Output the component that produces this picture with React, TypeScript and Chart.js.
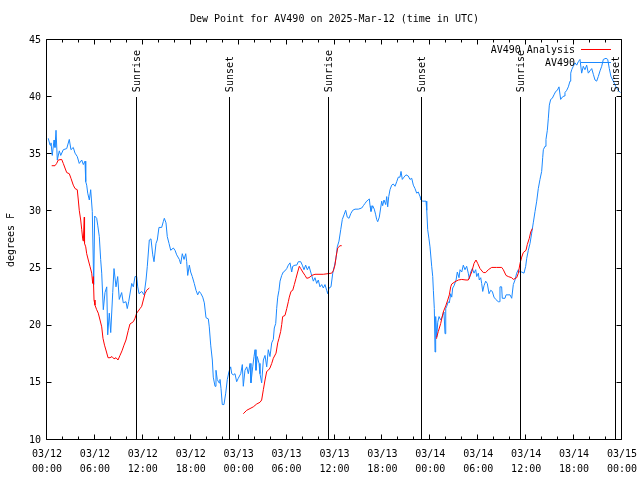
import { useEffect, useRef } from "react";
import { Chart, registerables } from "chart.js";

Chart.register(...registerables);

const TITLE = "Dew Point for AV490 on 2025-Mar-12 (time in UTC)";
const Y_LABEL = "degrees F";
const FONT = '"DejaVu Sans Mono", "Liberation Mono", monospace';

// hours since 03/12 00:00 UTC
const X_MIN = 0;
const X_MAX = 72;
const X_TICK_DATES = ["03/12", "03/12", "03/12", "03/12", "03/13", "03/13", "03/13", "03/13", "03/14", "03/14", "03/14", "03/14", "03/15"];
const X_TICK_TIMES = ["00:00", "06:00", "12:00", "18:00", "00:00", "06:00", "12:00", "18:00", "00:00", "06:00", "12:00", "18:00", "00:00"];
const Y_MIN = 10;
const Y_MAX = 45;
const Y_STEP = 5;

const SUNRISE_HOURS = [11.14, 35.19, 59.17];
const SUNSET_HOURS = [22.83, 46.87, 71.15];

const LEGEND_LABELS = ["AV490 Analysis", "AV490"];
const RED = "#ff0000";
const BLUE = "#1a88ff";

// AV490 observations
const blueHours = [
  0.16, 0.38, 0.5, 0.66, 0.88, 1.0, 1.13, 1.29, 1.54, 1.72, 2.04, 2.47, 2.79, 3.0, 3.29, 3.51, 3.79, 4.04, 4.35, 4.55,
  4.76, 4.85, 4.97, 5.1, 5.3, 5.47, 5.67, 5.85, 5.97, 6.22, 6.35, 6.55, 6.72, 6.85, 7.05, 7.26, 7.48, 7.6, 7.8, 7.98,
  8.23, 8.39, 8.64, 8.85, 9.05, 9.35, 9.55, 9.89, 10.05, 10.23, 10.61, 10.81, 11.02, 11.23, 11.36, 11.52, 11.86, 12.15, 12.4, 12.56,
  12.81, 13.02, 13.24, 13.4, 13.65, 13.81, 14.02, 14.36, 14.56, 14.69, 14.9, 15.06, 15.28, 15.49, 15.82, 16.03, 16.24, 16.57, 16.74, 16.94,
  17.16, 17.37, 17.49, 17.62, 17.82, 17.99, 18.19, 18.44, 18.66, 18.87, 19.07, 19.28, 19.5, 19.7, 19.91, 20.2, 20.32, 20.5, 20.7, 20.82,
  21.04, 21.16, 21.32, 21.54, 21.66, 21.79, 21.95, 22.16, 22.38, 22.58, 22.79, 23.0, 23.13, 23.33, 23.54, 23.75, 23.95, 24.26, 24.46, 24.58,
  24.79, 25.01, 25.21, 25.42, 25.54, 25.76, 25.92, 26.05, 26.17, 26.33, 26.55, 26.67, 26.88, 27.09, 27.3, 27.51, 27.71, 27.92, 28.14, 28.34,
  28.46, 28.64, 28.76, 28.89, 29.05, 29.18, 29.39, 29.59, 29.8, 30.02, 30.22, 30.43, 30.64, 30.77, 31.05, 31.27, 31.47, 31.77, 31.97, 32.18,
  32.39, 32.6, 32.81, 33.06, 33.35, 33.56, 33.77, 33.97, 34.18, 34.4, 34.6, 34.81, 35.02, 35.15, 35.31, 35.56, 35.78, 35.98, 36.19, 36.35,
  36.56, 36.78, 36.98, 37.19, 37.4, 37.6, 37.82, 38.03, 38.28, 38.57, 38.98, 39.41, 39.61, 39.82, 40.03, 40.23, 40.36, 40.45, 40.57, 40.78,
  40.98, 41.16, 41.28, 41.41, 41.61, 41.78, 41.91, 42.03, 42.2, 42.41, 42.54, 42.66, 42.79, 42.95, 43.16, 43.36, 43.58, 43.79, 43.99, 44.2,
  44.33, 44.49, 44.7, 44.95, 45.24, 45.45, 45.67, 45.87, 46.08, 46.29, 46.49, 46.71, 46.83, 47.05, 47.46, 47.55, 47.67, 47.83, 47.96, 48.17,
  48.3, 48.38, 48.5, 48.59, 48.67, 48.8, 48.93, 49.09, 49.3, 49.55, 49.71, 49.84, 49.93, 50.05, 50.25, 50.38, 50.55, 50.68, 50.8, 50.97,
  51.22, 51.38, 51.59, 51.72, 51.93, 52.13, 52.34, 52.55, 52.75, 52.88, 53.06, 53.26, 53.47, 53.68, 53.81, 54.01, 54.13, 54.31, 54.43, 54.56,
  54.72, 54.93, 55.13, 55.35, 55.56, 55.76, 55.97, 56.19, 56.51, 56.64, 56.72, 56.93, 57.01, 57.35, 57.48, 57.98, 58.19, 58.39, 58.6, 58.81,
  59.02, 59.14, 59.44, 59.73, 59.94, 60.07, 60.27, 60.48, 60.69, 60.89, 61.11, 61.32, 61.52, 61.73, 61.94, 62.07, 62.15, 62.36, 62.48, 62.65,
  62.77, 62.9, 63.07, 63.27, 63.48, 63.7, 63.9, 64.11, 64.32, 64.52, 64.74, 64.86, 65.08, 65.28, 65.49, 65.58, 65.7, 65.9, 66.12, 66.33,
  66.53, 66.74, 66.95, 67.15, 67.36, 67.58, 67.78, 67.99, 68.21, 68.41, 68.62, 68.83, 69.03, 69.25, 69.46, 69.66, 70.0, 70.21, 70.41, 70.62,
  70.91, 71.25, 71.54, 71.79,
];
const blueDew = [
  36.4, 35.8, 36.0, 34.9, 36.25, 35.6, 37.1, 34.5, 35.3, 34.9, 35.4, 35.5, 36.3, 35.4, 35.6, 35.1, 34.8, 34.2, 34.5, 34.1,
  34.4, 32.6, 32.3, 31.6, 31.0, 31.9, 30.0, 23.6, 29.6, 29.4, 28.8, 27.8, 25.8, 24.6, 21.4, 22.9, 23.4, 19.2, 21.1, 19.4,
  22.9, 25.0, 23.4, 24.3, 22.3, 22.9, 22.0, 22.1, 21.5, 22.1, 23.7, 23.4, 24.3, 24.3, 23.4, 22.8, 23.0, 22.7, 24.0, 25.2,
  27.5, 27.6, 26.2, 25.6, 27.2, 27.5, 28.6, 28.6, 29.1, 29.4, 29.0, 27.8, 27.2, 26.6, 26.8, 26.6, 26.2, 25.8, 25.4, 26.3,
  25.8, 26.3, 25.6, 24.4, 25.3, 24.7, 24.3, 23.7, 23.1, 22.7, 23.0, 22.8, 22.5, 22.0, 20.7, 20.6, 19.9, 18.3, 17.0, 15.5,
  14.7, 16.1, 15.3, 15.0, 15.3, 14.5, 13.1, 13.1, 14.1, 15.3, 16.0, 16.4, 15.8, 15.7, 15.8, 15.1, 15.4, 15.8, 16.6, 14.7,
  16.1, 16.4, 15.8, 16.7, 15.0, 16.4, 17.3, 17.9, 16.1, 17.3, 16.7, 15.8, 15.0, 17.0, 17.4, 16.4, 17.9, 17.3, 18.5, 18.8,
  19.8, 20.2, 21.5, 22.5, 23.1, 23.9, 24.4, 24.7, 24.8, 25.0, 25.3, 25.5, 24.7, 25.2, 25.3, 25.3, 25.6, 25.6, 25.3, 24.9,
  25.3, 24.9, 25.2, 24.6, 23.9, 24.2, 23.7, 24.0, 23.4, 23.6, 23.3, 23.6, 23.1, 22.8, 23.3, 23.4, 24.6, 25.2, 25.9, 26.9,
  27.4, 28.4, 29.3, 29.7, 30.1, 29.5, 29.4, 29.8, 30.1, 30.2, 30.2, 30.3, 30.5, 30.7, 30.9, 31.0, 31.1, 30.5, 30.0, 30.5,
  30.2, 29.7, 29.3, 29.1, 29.5, 30.3, 30.9, 30.5, 31.0, 30.6, 31.3, 30.4, 31.3, 31.9, 32.3, 32.4, 32.2, 32.6, 33.0, 33.0,
  33.5, 32.8, 33.0, 33.2, 33.1, 32.8, 32.9, 32.3, 32.0, 31.6, 31.7, 31.3, 31.0, 30.9, 30.9, 30.1, 28.4, 27.6, 26.9, 25.2,
  24.3, 23.1, 21.5, 17.7, 20.8, 19.0, 20.3, 20.8, 20.5, 20.9, 21.2, 19.3, 21.5, 21.7, 22.1, 22.0, 22.8, 22.5, 23.3, 23.5,
  24.0, 24.7, 24.2, 24.9, 24.7, 25.3, 24.9, 25.2, 24.6, 24.1, 24.7, 25.0, 24.6, 24.9, 24.3, 24.6, 24.0, 24.2, 23.7, 23.0,
  23.5, 23.9, 23.7, 22.8, 23.1, 23.0, 22.5, 22.3, 22.1, 22.1, 23.4, 23.4, 22.4, 22.4, 22.7, 22.7, 22.4, 23.6, 24.0, 24.6,
  24.9, 24.7, 24.7, 24.6, 25.2, 25.9, 26.6, 27.2, 28.1, 29.0, 30.0, 30.9, 32.0, 32.8, 33.5, 34.7, 35.4, 35.7, 36.3, 37.1,
  38.1, 39.3, 39.8, 39.9, 40.2, 40.5, 40.6, 40.9, 39.8, 40.0, 40.1, 40.4, 40.6, 40.9, 41.4, 42.1, 42.4, 42.7, 43.0, 42.8,
  43.1, 43.3, 42.1, 42.7, 42.4, 42.8, 42.1, 42.3, 42.5, 42.0, 41.5, 41.4, 41.8, 42.3, 42.7, 43.3, 43.4, 43.3, 42.5, 41.8,
  41.4, 40.9, 40.6, 40.4,
];

// AV490 Analysis (null = gap between analysis runs)
const redHours = [
  0.59, 1.0, 1.21, 1.41, 1.84, 2.04, 2.25, 2.47, 2.79, 3.0, 3.29, 3.51, 3.79, 3.92, 4.04, 4.22, 4.35, 4.47, 4.55, 4.67,
  4.7, 4.85, 4.97, 5.17, 5.38, 5.6, 5.72, 5.8, 5.89, 6.01, 6.22, 6.42, 6.64, 6.85, 7.01, 7.2, 7.45, 7.64, 7.89, 8.14,
  8.39, 8.64, 8.89, 9.14, 9.39, 9.64, 9.89, 10.18, 10.39, 10.81, 11.02, 11.23, 11.65, 11.86, 12.06, 12.27, 12.48, 12.81,
  18.0,
  24.58, 25.01, 25.42, 25.83, 26.26, 26.67, 26.88, 27.09, 27.3, 27.51, 27.71, 27.92, 28.14, 28.34, 28.68, 28.89, 29.05, 29.26, 29.39, 29.51,
  29.8, 30.02, 30.22, 30.34, 30.55, 30.77, 30.97, 31.18, 31.39, 31.59, 31.77, 32.02, 32.31, 32.52, 32.81, 33.15, 33.56, 34.6, 35.65, 35.85,
  36.06, 36.19, 36.4, 36.69, 36.9,
  42.0,
  48.71, 48.8, 49.0, 49.3, 49.62, 49.96, 50.18, 50.38, 50.55, 50.68, 51.09, 51.51, 51.93, 52.47, 52.75, 52.97, 53.18, 53.47, 53.72, 53.93,
  54.22, 54.63, 54.93, 55.26, 55.69, 56.31, 56.94, 57.14, 57.48, 57.76, 58.19, 58.39, 58.81, 59.02, 59.23, 59.44, 59.64, 59.98, 60.14, 60.39,
  60.57, 60.77,
];
const redDew = [
  34.0, 34.0, 34.2, 34.5, 34.55, 34.2, 33.8, 33.4, 33.3, 32.9, 32.3, 32.0, 31.9, 31.0, 30.1, 29.25, 28.4, 27.6, 27.4, 29.5,
  27.2, 26.9, 26.3, 25.75, 25.2, 24.6, 23.7, 24.3, 22.25, 21.8, 21.4, 21.1, 20.5, 19.9, 18.9, 18.3, 17.7, 17.2, 17.2, 17.3,
  17.1, 17.2, 17.0, 17.4, 17.8, 18.3, 18.75, 19.6, 20.15, 20.35, 20.65, 21.1, 21.5, 21.7, 22.25, 22.8, 23.1, 23.3,
  null,
  12.3, 12.6, 12.75, 12.9, 13.15, 13.3, 13.5, 14.4, 15.25, 16.0, 16.1, 16.3, 16.7, 17.15, 17.6, 18.5, 18.9, 19.5, 20.1, 20.8,
  20.9, 21.5, 22.1, 22.5, 23.0, 23.1, 23.6, 24.15, 24.7, 25.2, 25.0, 24.7, 24.4, 24.15, 24.2, 24.4, 24.5, 24.5, 24.6, 24.8,
  25.3, 26.0, 26.8, 27.0, 27.0,
  null,
  18.9, 19.0, 19.5, 20.2, 21.2, 21.8, 22.25, 22.7, 23.4, 23.65, 23.85, 24.0, 24.05, 24.0, 24.0, 24.35, 24.7, 25.45, 25.75, 25.45,
  25.0, 24.65, 24.65, 24.9, 25.1, 25.1, 25.1, 24.9, 24.4, 24.3, 24.2, 24.05, 24.2, 24.6, 25.45, 26.0, 26.4, 26.6, 27.1, 27.65,
  28.2, 28.5,
];

const crisp = (v: number) => Math.round(v) + 0.5;

const gnuplotDecor = {
  id: "gnuplotDecor",
  afterDatasetsDraw(chart: any) {
    const { ctx, chartArea: a, scales } = chart;
    const xs = scales.x;
    const ys = scales.y;
    ctx.save();
    ctx.strokeStyle = "#000";
    ctx.fillStyle = "#000";
    ctx.lineWidth = 1;
    ctx.font = `10px ${FONT}`;

    // sunrise / sunset markers
    const topY = ys.getPixelForValue(40);
    const drawEvent = (h: number, label: string) => {
      const px = crisp(xs.getPixelForValue(h));
      ctx.beginPath();
      ctx.moveTo(px, Math.round(topY));
      ctx.lineTo(px, a.bottom);
      ctx.stroke();
      ctx.save();
      ctx.translate(px + 1, topY - 5);
      ctx.rotate(-Math.PI / 2);
      ctx.textAlign = "left";
      ctx.textBaseline = "middle";
      ctx.fillText(label, 0, 0);
      ctx.restore();
    };
    SUNRISE_HOURS.forEach((h) => drawEvent(h, "Sunrise"));
    SUNSET_HOURS.forEach((h) => drawEvent(h, "Sunset"));

    // border
    const L = crisp(a.left) - 1;
    const R = crisp(a.right) - 1;
    const T = crisp(a.top) - 1;
    const B = crisp(a.bottom) - 1;
    ctx.beginPath();
    ctx.rect(L, T, R - L, B - T);
    ctx.stroke();

    // y ticks (inward, both sides)
    ctx.beginPath();
    for (let v = Y_MIN; v <= Y_MAX; v += Y_STEP) {
      const py = crisp(ys.getPixelForValue(v)) - 1;
      ctx.moveTo(L, py);
      ctx.lineTo(L + 5, py);
      ctx.moveTo(R, py);
      ctx.lineTo(R - 5, py);
    }
    // x ticks: major every 6h, minor every 2h
    for (let h = X_MIN; h <= X_MAX; h += 2) {
      const px = crisp(xs.getPixelForValue(h)) - 1;
      const len = h % 6 === 0 ? 5 : 3;
      ctx.moveTo(px, B);
      ctx.lineTo(px, B - len);
      ctx.moveTo(px, T);
      ctx.lineTo(px, T + len);
    }
    ctx.stroke();

    // legend
    const colors = [RED, BLUE];
    LEGEND_LABELS.forEach((lbl, i) => {
      const y = 50 + i * 13;
      ctx.fillStyle = "#000";
      ctx.textAlign = "right";
      ctx.textBaseline = "middle";
      ctx.fillText(lbl, 575, y);
      ctx.strokeStyle = colors[i];
      ctx.beginPath();
      ctx.moveTo(581, y - 0.5);
      ctx.lineTo(611, y - 0.5);
      ctx.stroke();
    });

    // title
    ctx.fillStyle = "#000";
    ctx.textAlign = "center";
    ctx.textBaseline = "middle";
    ctx.fillText(TITLE, (a.left + a.right) / 2, 19);

    // y axis label
    ctx.save();
    ctx.translate(11, (a.top + a.bottom) / 2);
    ctx.rotate(-Math.PI / 2);
    ctx.textAlign = "center";
    ctx.textBaseline = "middle";
    ctx.fillText(Y_LABEL, 0, 0);
    ctx.restore();

    ctx.restore();
  },
};

export default function App() {
  const canvasRef = useRef<HTMLCanvasElement | null>(null);

  useEffect(() => {
    const canvas = canvasRef.current;
    if (!canvas) return;
    const chart = new Chart(canvas, {
      type: "line",
      data: {
        datasets: [
          {
            label: LEGEND_LABELS[0],
            data: redHours.map((h, i) => ({ x: h, y: redDew[i] })),
            borderColor: RED,
            borderWidth: 1,
            pointRadius: 0,
            tension: 0,
            spanGaps: false,
            fill: false,
          },
          {
            label: LEGEND_LABELS[1],
            data: blueHours.map((h, i) => ({ x: h, y: blueDew[i] })),
            borderColor: BLUE,
            borderWidth: 1,
            pointRadius: 0,
            tension: 0,
            fill: false,
          },
        ],
      },
      options: {
        animation: false,
        responsive: false,
        devicePixelRatio: 1,
        events: [],
        layout: { padding: { left: 0, right: 18, top: 40, bottom: 0 } },
        plugins: {
          legend: { display: false },
          title: { display: false },
          tooltip: { enabled: false },
        },
        scales: {
          x: {
            type: "linear",
            min: X_MIN,
            max: X_MAX,
            grid: { display: false, drawTicks: false },
            border: { display: false },
            afterFit: (s: any) => {
              s.height = 40;
              s.paddingLeft = 0;
              s.paddingRight = 0;
            },
            ticks: {
              stepSize: 6,
              autoSkip: false,
              maxRotation: 0,
              minRotation: 0,
              padding: 7,
              color: "#000",
              font: { family: FONT, size: 10, lineHeight: 1.5 },
              callback: (v: any) => {
                const i = Math.round(Number(v) / 6);
                return [X_TICK_DATES[i], X_TICK_TIMES[i]];
              },
            },
          },
          y: {
            type: "linear",
            min: Y_MIN,
            max: Y_MAX,
            grid: { display: false, drawTicks: false },
            border: { display: false },
            afterFit: (s: any) => {
              s.width = 47;
              s.paddingTop = 0;
              s.paddingBottom = 0;
            },
            ticks: {
              stepSize: Y_STEP,
              padding: 6,
              color: "#000",
              font: { family: FONT, size: 10 },
              callback: (v: any) => String(v),
            },
          },
        },
      },
      plugins: [gnuplotDecor],
    });
    return () => chart.destroy();
  }, []);

  return (
    <div style={{ position: "fixed", left: 0, top: 0, width: 640, height: 480, background: "#fff" }}>
      <canvas ref={canvasRef} width={640} height={480} style={{ width: 640, height: 480, display: "block" }} />
    </div>
  );
}
